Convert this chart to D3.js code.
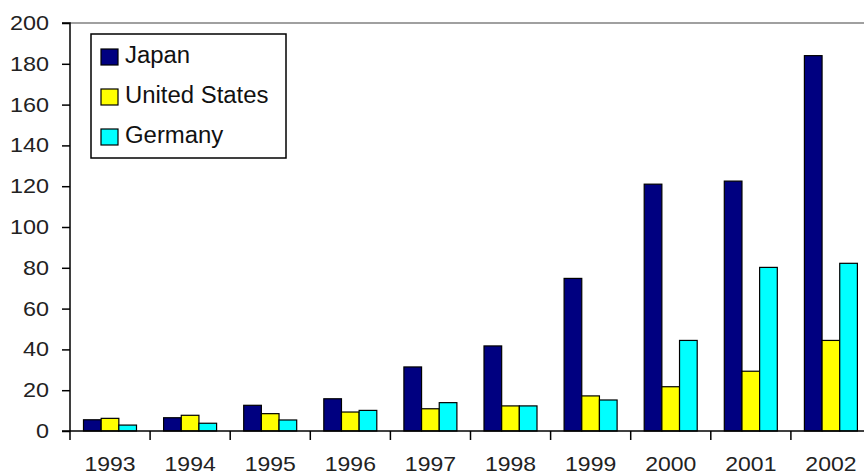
<!DOCTYPE html>
<html><head><meta charset="utf-8">
<script src="https://cdn.jsdelivr.net/npm/d3@7"></script>
<style>
body{margin:0;background:#fff;}
svg{display:block;font-family:"Liberation Sans",Arial,sans-serif;}
.ylab text{transform-box:fill-box;transform-origin:right center;transform:scaleX(1.17);}
.xlab text{transform-box:fill-box;transform-origin:center center;transform:scaleX(1.15);}
.it text{transform-box:fill-box;transform-origin:left center;transform:scaleX(1.04);}
</style></head>
<body>
<script>
const years = ["1993","1994","1995","1996","1997","1998","1999","2000","2001","2002"];
const seriesNames = ["Japan","United States","Germany"];
const japan   = [5.5, 6.5, 12.6, 15.8, 31.4, 41.7, 74.8, 121, 122.5, 184];
const usa     = [6.2, 7.7, 8.5, 9.3, 10.9, 12.3, 17.2, 21.7, 29.3, 44.4];
const germany = [2.9, 3.8, 5.4, 10.1, 13.9, 12.3, 15.2, 44.4, 80.2, 82.2];
const yTicks  = [0,20,40,60,80,100,120,140,160,180,200];
const colors  = ["#000080","#ffff00","#00ffff"];

const W=864,H=476;
const svg=d3.select("body").append("svg").attr("width",W).attr("height",H);
const pL=70, pT=23, pB=431, pR=871;
const x0=d3.scaleBand().domain(years).range([pL,pR]);
const x1=d3.scaleBand().domain(seriesNames).range([13.5,66.5]);
const y=d3.scaleLinear().domain([0,200]).range([pB,pT]);
const color=d3.scaleOrdinal().domain(seriesNames).range(colors);
const values=[japan,usa,germany];

// top line at 200
svg.append("line").attr("x1",pL).attr("x2",W).attr("y1",y(200)).attr("y2",y(200))
  .attr("stroke","#a0a0a0").attr("stroke-width",2);

// bars
const groups=svg.selectAll("g.yr").data(years).join("g").attr("class","yr")
  .attr("transform",d=>`translate(${x0(d)},0)`);
groups.selectAll("rect").data((d,i)=>seriesNames.map((s,j)=>({s,v:values[j][i]}))).join("rect")
  .attr("x",d=>x1(d.s)).attr("width",x1.bandwidth())
  .attr("y",d=>y(d.v)).attr("height",d=>y(0)-y(d.v))
  .attr("fill",d=>color(d.s)).attr("stroke","#000").attr("stroke-width",1.2);

// y axis
const ya=svg.append("g").attr("class","ylab").attr("transform",`translate(${pL},0)`)
  .call(d3.axisLeft(y).tickValues(yTicks).tickSize(8).tickPadding(13));
ya.select(".domain").attr("stroke","#000").attr("stroke-width",1.5).attr("d",`M-8,${y(200)}H0V${y(0)}`);
ya.selectAll(".tick line").attr("stroke","#000").attr("stroke-width",1.5);
ya.selectAll("text").attr("font-size",20).attr("fill","#222").attr("font-family","Liberation Sans, Arial, sans-serif");

// x axis
const xa=svg.append("g").attr("class","xlab").attr("transform",`translate(0,${pB})`)
  .call(d3.axisBottom(x0).tickSize(0).tickPadding(26));
xa.select(".domain").remove();
xa.selectAll("text").attr("font-size",20).attr("fill","#222").attr("font-family","Liberation Sans, Arial, sans-serif");
svg.append("line").attr("x1",pL-8).attr("x2",W).attr("y1",pB).attr("y2",pB)
  .attr("stroke","#000").attr("stroke-width",1.5);
svg.selectAll("line.xt").data(years).join("line").attr("class","xt")
  .attr("x1",d=>x0(d)).attr("x2",d=>x0(d)).attr("y1",pB).attr("y2",pB+9)
  .attr("stroke","#000").attr("stroke-width",1.5);

// legend
const lg=svg.append("g").attr("transform","translate(91,34)");
lg.append("rect").attr("width",195).attr("height",124).attr("fill","#fff")
  .attr("stroke","#000").attr("stroke-width",1.5);
const items=lg.selectAll("g.it").data(seriesNames).join("g").attr("class","it")
  .attr("transform",(d,i)=>`translate(0,${29+i*40})`);
items.append("rect").attr("x",10).attr("y",-14).attr("width",17).attr("height",16)
  .attr("fill",d=>color(d)).attr("stroke","#000").attr("stroke-width",1.2);
items.append("text").attr("x",34).attr("y",0).attr("font-size",23).attr("fill","#111").text(d=>d);
</script>
</body></html>
